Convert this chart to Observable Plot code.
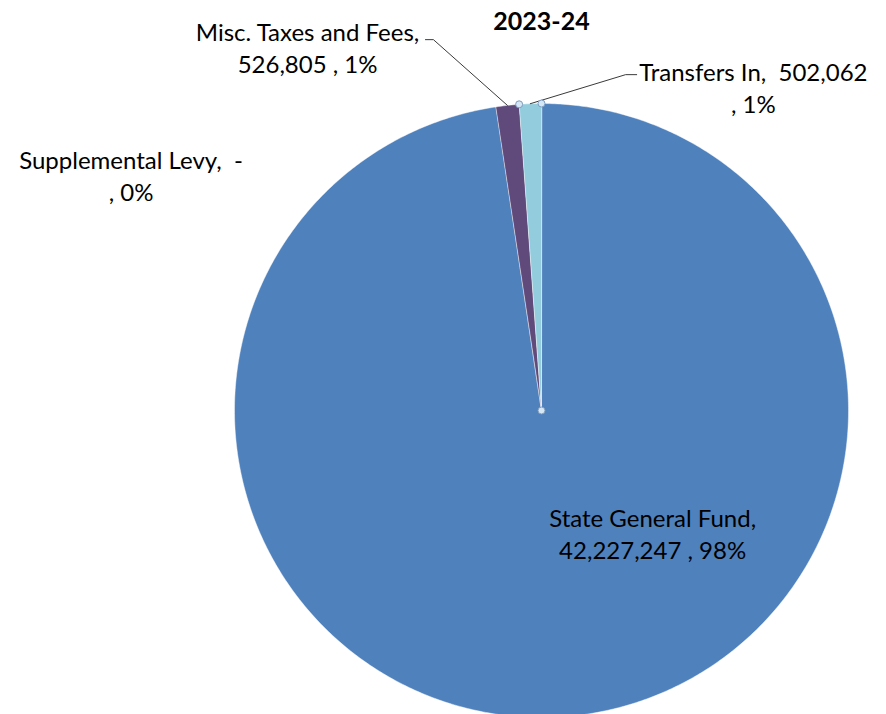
<!DOCTYPE html>
<html>
<head>
<meta charset="utf-8">
<script src="https://cdn.jsdelivr.net/npm/d3@7"></script>
<script src="https://cdn.jsdelivr.net/npm/@observablehq/plot@0.6"></script>
<style>
  html, body { margin: 0; padding: 0; background: #fff; }
  svg text { white-space: pre; }
</style>
</head>
<body>
<div id="chart"></div>
<script>
// ---- data ----
const title = "2023-24";
const categories = ["State General Fund", "Supplemental Levy", "Misc. Taxes and Fees", "Transfers In"];
const values = [42227247, 0, 526805, 502062];
const valueTexts = ["42,227,247", "-", "526,805", "502,062"];

// ---- styles / layout (not data) ----
const colors = ["#4f81bd", "#4f81bd", "#604a7b", "#93cddd"];
const FONT = "Lato";
const FS = 24;
const LINE_H = 1.34;
// wrap mode: "name" breaks after the category name, "value" breaks before the percentage
const wrapMode = {"State General Fund": "name", "Supplemental Levy": "value", "Misc. Taxes and Fees": "name", "Transfers In": "value"};
// label centres in pie units (radius = 1, y up)
const labelPos = {
  "State General Fund": [0.362, -0.397],
  "Supplemental Levy": [-1.337, 0.768],
  "Misc. Taxes and Fees": [-0.762, 1.186],
  "Transfers In": [0.690, 1.055]
};
// leader lines: tail end, elbow (pie units); the other end is on the slice's arc
const leaders = {
  "Misc. Taxes and Fees": [[-0.378, 1.208], [-0.352, 1.208]],
  "Transfers In": [[0.310, 1.094], [0.274, 1.094]]
};
const titlePos = [0, 1.266];
const selected = "Transfers In";

// ---- derived ----
const total = d3.sum(values);
let acc = 0;
const slices = categories.map((c, i) => {
  const a0 = acc;
  const a1 = acc + values[i] / total * 2 * Math.PI;
  acc = a1;
  const pct = Math.round(values[i] / total * 100) + "%";
  return {cat: c, a0, a1, mid: (a0 + a1) / 2, value: values[i], valueText: valueTexts[i], pct};
});

const polyPts = [];
for (const s of slices) {
  if (s.a1 - s.a0 <= 0) continue;
  polyPts.push({cat: s.cat, x: 0, y: 0});
  const n = Math.max(2, Math.ceil((s.a1 - s.a0) / (Math.PI / 360)));
  for (let k = 0; k <= n; k++) {
    const t = s.a0 + (s.a1 - s.a0) * k / n;
    polyPts.push({cat: s.cat, x: Math.sin(t), y: Math.cos(t)});
  }
}

const labels = slices.map(s => {
  const pos = labelPos[s.cat];
  const text = wrapMode[s.cat] === "name"
    ? `${s.cat},\n${s.valueText} , ${s.pct}`
    : `${s.cat},  ${s.valueText}\n, ${s.pct}`;
  return {cat: s.cat, x: pos[0], y: pos[1], text};
});

const leaderPts = [];
for (const s of slices) {
  const L = leaders[s.cat];
  if (!L) continue;
  leaderPts.push({cat: s.cat, x: L[0][0], y: L[0][1]});
  leaderPts.push({cat: s.cat, x: L[1][0], y: L[1][1]});
  leaderPts.push({cat: s.cat, x: Math.sin(s.mid), y: Math.cos(s.mid)});
}

const sel = slices.find(s => s.cat === selected);
const handles = [
  {x: 0, y: 0},
  {x: Math.sin(sel.a0), y: Math.cos(sel.a0)},
  {x: Math.sin(sel.a1), y: Math.cos(sel.a1)}
];

const chart = Plot.plot({
  width: 886,
  height: 714,
  margin: 0,
  style: {fontFamily: FONT, background: "#fff"},
  x: {domain: [-1, 1], range: [234, 848], axis: null},
  y: {domain: [-1, 1], range: [717, 103], axis: null},
  color: {domain: categories, range: colors},
  marks: [
    Plot.line(polyPts, {x: "x", y: "y", z: "cat", fill: "cat", stroke: "#ffffff", strokeWidth: 0.8, strokeOpacity: 0.55, curve: "linear-closed"}),
    Plot.line(leaderPts, {x: "x", y: "y", z: "cat", stroke: "#3a3a3a", strokeWidth: 1, curve: "linear"}),
    Plot.dot(handles, {x: "x", y: "y", r: 3.5, fill: "#d5e6f5", stroke: "#7d9cbf", strokeWidth: 1}),
    Plot.text(labels, {x: "x", y: "y", text: "text", fontSize: FS, lineHeight: LINE_H, textAnchor: "middle", fill: "#000"}),
    Plot.text([title], {x: () => titlePos[0], y: () => titlePos[1], text: d => d, fontSize: 25, fontWeight: "bold", textAnchor: "middle", fill: "#000"})
  ]
});
document.getElementById("chart").appendChild(chart);
</script>
</body>
</html>
